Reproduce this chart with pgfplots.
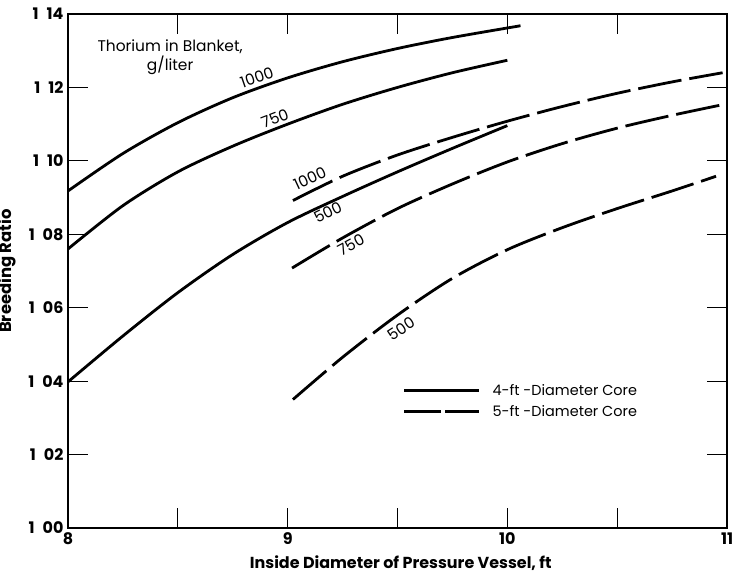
\documentclass[border=0pt]{standalone}
\usepackage{fontspec}
\setmainfont{Poppins}
\usepackage{pgfplots}
\pgfplotsset{compat=1.18}

% breeding ratio vs. pressure-vessel inside diameter
% 4-ft-diameter core
\pgfplotstableread{
x y
8.00 1.0918
8.25 1.1020
8.50 1.1104
8.75 1.1172
9.00 1.1226
9.25 1.1270
9.50 1.1306
9.75 1.1336
10.06 1.1368
}\fourThousand
\pgfplotstableread{
x y
8.00 1.0760
8.25 1.0878
8.50 1.0970
8.75 1.1040
9.00 1.1100
9.25 1.1154
9.50 1.1200
9.75 1.1240
10.00 1.1274
}\fourSevenFifty
\pgfplotstableread{
x y
8.00 1.0398
8.25 1.0523
8.50 1.0641
8.75 1.0745
9.00 1.0832
9.25 1.0903
9.50 1.0970
9.75 1.1034
10.00 1.1096
}\fourFiveHundred
% 5-ft-diameter core
\pgfplotstableread{
x y
9.024 1.0892
9.25 1.0958
9.50 1.1016
9.75 1.1064
10.00 1.1108
10.25 1.1148
10.50 1.1184
10.75 1.1215
10.98 1.1240
}\fiveThousand
\pgfplotstableread{
x y
9.02 1.0708
9.25 1.0790
9.50 1.0870
9.75 1.0937
10.00 1.0997
10.25 1.1047
10.50 1.1089
10.75 1.1124
10.98 1.1153
}\fiveSevenFifty
\pgfplotstableread{
x y
9.024 1.0350
9.25 1.0465
9.50 1.0580
9.75 1.0680
10.00 1.0758
10.25 1.0818
10.50 1.0870
10.75 1.0918
10.95 1.0958
}\fiveFiveHundred

\newcommand{\yl}[2]{#1\hspace{8bp}#2}

\tikzset{
  core4/.style={line width=2.8bp, solid},
  core5/.style={line width=2.8bp, dash pattern=on 44bp off 8bp},
  curvelabel/.style={font=\fontsize{15.5}{17}\selectfont, inner sep=0bp, anchor=center},
}
\pgfplotsset{
  leg4/.style={legend image code/.code={\draw[##1] (0bp,0bp) -- (75bp,0bp);}},
  leg5/.style={legend image code/.code={\draw[##1] (0bp,0bp) -- (37bp,0bp); \draw[##1] (41bp,0bp) -- (75bp,0bp);}},
}

\begin{document}
\begin{tikzpicture}
\path[use as bounding box] (-68bp,-46bp) rectangle (667bp,528bp);
\begin{axis}[
  scale only axis,
  width=659bp, height=514bp,
  xmin=8, xmax=11, ymin=1.00, ymax=1.14,
  axis line style={line width=2.4bp},
  xtick={8,8.5,9,9.5,10,10.5,11},
  xticklabels={8,,9,,10,,11},
  ytick={1.00,1.02,1.04,1.06,1.08,1.10,1.12,1.14},
  yticklabels={\yl{1}{00},\yl{1}{02},\yl{1}{04},\yl{1}{06},\yl{1}{08},\yl{1}{10},\yl{1}{12},\yl{1}{14}},
  xtick pos=both, ytick pos=both,
  tick align=inside,
  major tick length=20bp,
  every tick/.style={black, line width=1bp},
  ticklabel style={font=\fontsize{16}{18}\selectfont\bfseries},
  xticklabel style={yshift=-1bp},
  yticklabel style={xshift=-1bp},
  xlabel={Inside Diameter of Pressure Vessel, ft},
  ylabel={Breeding Ratio},
  xlabel style={font=\fontsize{16}{18}\selectfont\bfseries, at={(axis description cs:0.505,-0.068)}, anchor=center},
  ylabel style={font=\fontsize{16.5}{18}\selectfont\bfseries, at={(axis description cs:-0.092,0.5)}, anchor=center},
  legend style={at={(axis cs:9.514,1.0402)}, anchor=north west, draw=none, fill=none,
    font=\fontsize{14.5}{16}\selectfont, row sep=4bp, inner sep=2bp,
    /tikz/every odd column/.append style={column sep=10bp}},
  legend cell align=left,
]
\addlegendimage{line width=2.8bp, leg4}
\addlegendentry{4-ft -Diameter Core}
\addlegendimage{line width=2.8bp, leg5}
\addlegendentry{5-ft -Diameter Core}

\addplot[core4, smooth, forget plot] table {\fourThousand};
\addplot[core4, smooth, forget plot] table {\fourSevenFifty};
\addplot[core4, smooth, forget plot] table {\fourFiveHundred};
\addplot[core5, smooth, forget plot] table {\fiveThousand};
\addplot[core5, smooth, forget plot] table {\fiveSevenFifty};
\addplot[core5, smooth, forget plot] table {\fiveFiveHundred};

\node[curvelabel, rotate=19] at (axis cs:8.860,1.1228) {1000};
\node[curvelabel, rotate=21] at (axis cs:8.942,1.1116) {750};
\node[curvelabel, rotate=25] at (axis cs:9.101,1.0952) {1000};
\node[curvelabel, rotate=26] at (axis cs:9.183,1.0860) {500};
\node[curvelabel, rotate=28] at (axis cs:9.288,1.0772) {750};
\node[curvelabel, rotate=33] at (axis cs:9.516,1.0543) {500};

\node[align=center, font=\fontsize{15.5}{19}\selectfont] at (axis cs:8.465,1.1283)
  {Thorium in Blanket,\\g/liter};
\end{axis}
\end{tikzpicture}
\end{document}
